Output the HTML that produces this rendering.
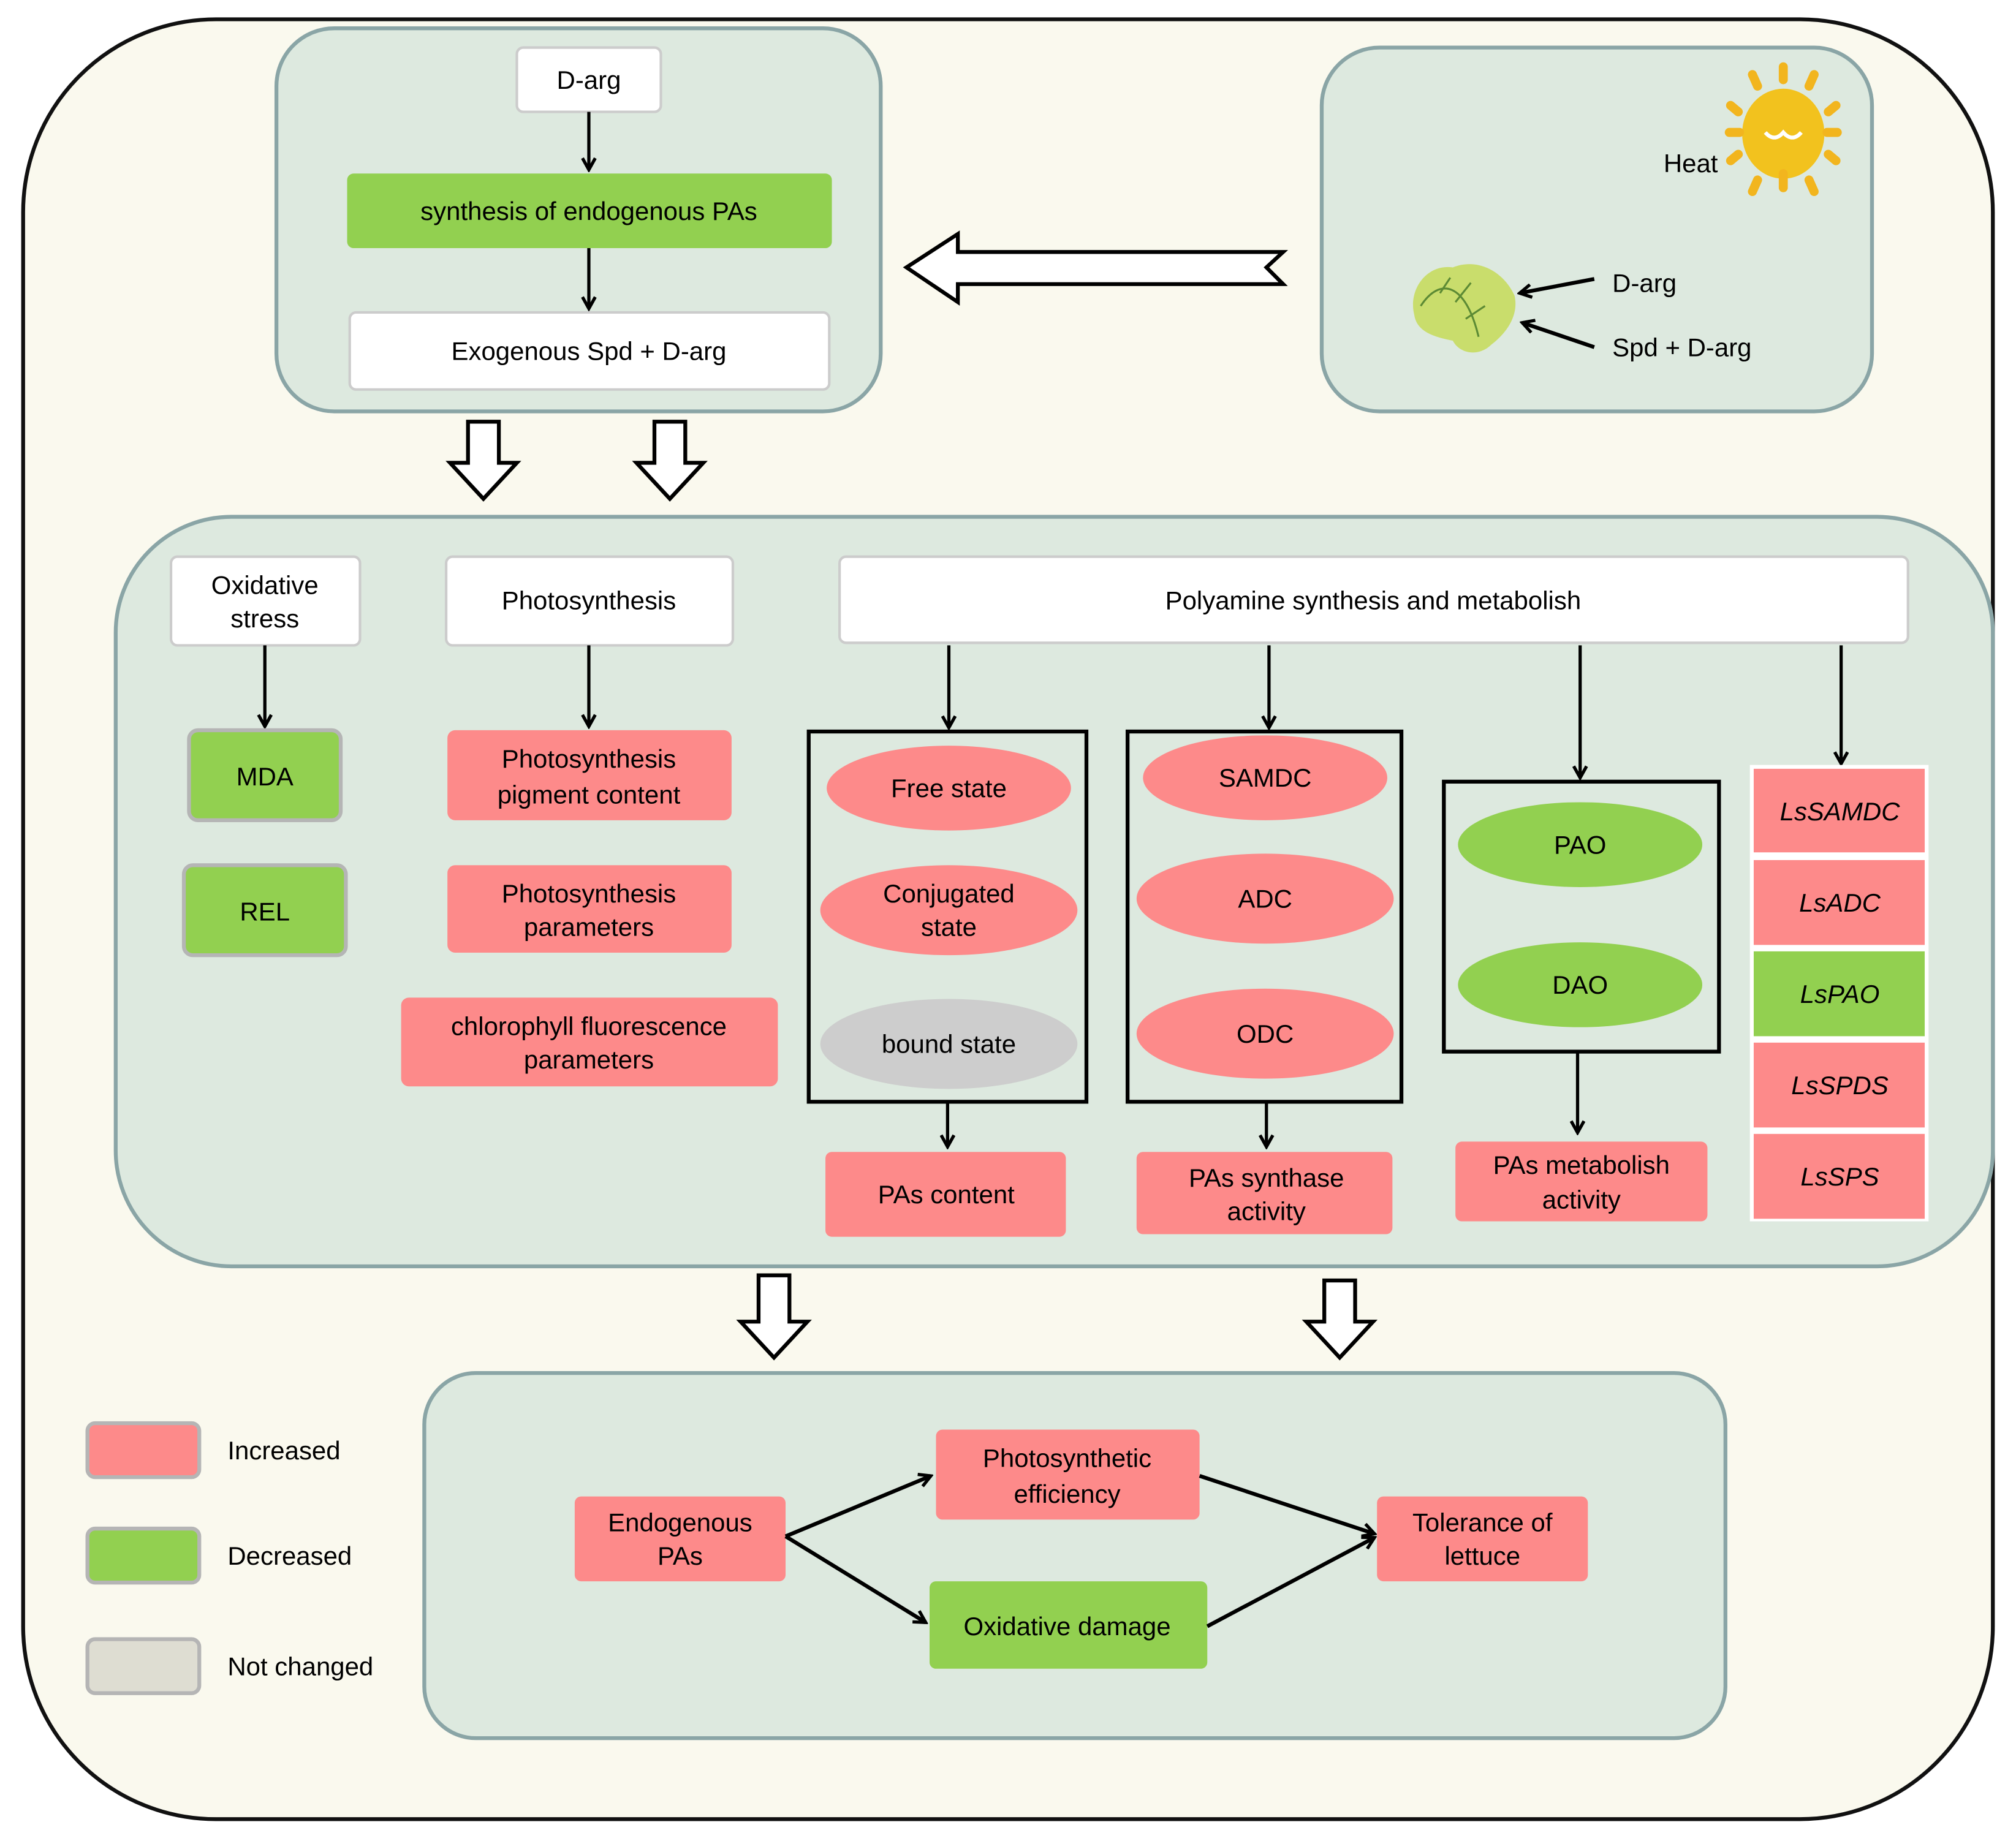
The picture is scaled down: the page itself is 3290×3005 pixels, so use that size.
<!DOCTYPE html>
<html><head><meta charset="utf-8"><style>html,body{margin:0;padding:0;background:#fff}svg{display:block}</style></head>
<body>
<svg xmlns="http://www.w3.org/2000/svg" width="3290" height="3005" viewBox="0 0 1568 1432" preserveAspectRatio="none" font-family="Liberation Sans, sans-serif" font-size="20" text-anchor="middle">
<defs>
<marker id="a" markerWidth="12" markerHeight="12" refX="10" refY="6" orient="auto" markerUnits="userSpaceOnUse">
<path d="M1,1 L10,6 L1,11" fill="none" stroke="#000" stroke-width="2.5"/>
</marker>
</defs>
<rect x="0" y="0" width="1568" height="1432" fill="#fff"/>
<rect x="18" y="15" width="1532" height="1400" rx="150" fill="#faf9ee" stroke="#111" stroke-width="3"/>
<!-- panels -->
<rect x="215" y="22" width="470" height="298" rx="45" fill="#dde9df" stroke="#8aa5a6" stroke-width="3"/>
<rect x="1028" y="37" width="428" height="283" rx="45" fill="#dde9df" stroke="#8aa5a6" stroke-width="3"/>
<rect x="90" y="402" width="1460" height="583" rx="90" fill="#dde9df" stroke="#8aa5a6" stroke-width="3"/>
<rect x="330" y="1068" width="1012" height="284" rx="40" fill="#dde9df" stroke="#8aa5a6" stroke-width="3"/>

<!-- top-left -->
<rect x="402" y="37" width="112" height="50" rx="5" fill="#fff" stroke="#ccc" stroke-width="2"/>
<text x="458" y="69">D-arg</text>
<rect x="270" y="135" width="377" height="58" rx="5" fill="#92d050"/>
<text x="458" y="171">synthesis of endogenous PAs</text>
<rect x="272" y="243" width="373" height="60" rx="5" fill="#fff" stroke="#ccc" stroke-width="2"/>
<text x="458" y="280">Exogenous Spd + D-arg</text>
<g stroke="#000" stroke-width="2.5" marker-end="url(#a)">
<line x1="458" y1="87" x2="458" y2="132"/>
<line x1="458" y1="193" x2="458" y2="240"/>
</g>

<!-- big left arrow -->
<path d="M998,196 L745,196 L745,182 L705,208 L745,235 L745,221 L998,221 L985,208 Z" fill="#fff" stroke="#000" stroke-width="3"/>

<!-- top-right -->
<text x="1315" y="134">Heat</text>
<g fill="#f2b51e">
<ellipse cx="1387" cy="104" rx="32" ry="35" fill="#f2c21e"/>
<g stroke="#f2b51e" stroke-width="7" stroke-linecap="round">
<line x1="1387" y1="62" x2="1387" y2="52"/><line x1="1387" y1="135" x2="1387" y2="146"/>
<line x1="1345" y1="103" x2="1353" y2="103"/><line x1="1421" y1="103" x2="1429" y2="103"/>
<line x1="1367" y1="67" x2="1363" y2="58"/><line x1="1407" y1="67" x2="1411" y2="58"/>
<line x1="1367" y1="140" x2="1363" y2="149"/><line x1="1407" y1="140" x2="1411" y2="149"/>
<line x1="1352" y1="87" x2="1346" y2="82"/><line x1="1422" y1="87" x2="1428" y2="82"/>
<line x1="1352" y1="120" x2="1346" y2="125"/><line x1="1422" y1="120" x2="1428" y2="125"/>
</g>
<path d="M1373,103 q7,8 14,0 q7,8 14,0" fill="none" stroke="#fff" stroke-width="3"/>
</g>
<path d="M1100,245 C1095,225 1110,205 1130,208 C1150,200 1170,212 1178,230 C1182,248 1168,262 1160,268 C1150,278 1135,275 1130,265 C1115,262 1102,258 1100,245 Z" fill="#c9dd6c"/>
<path d="M1105,238 C1120,215 1140,220 1150,262 M1120,228 l8,-12 M1132,235 l12,-15 M1140,248 l15,-10" fill="none" stroke="#5c8a34" stroke-width="1.5"/>
<g stroke="#000" stroke-width="3" marker-end="url(#a)">
<line x1="1240" y1="217" x2="1182" y2="228"/>
<line x1="1240" y1="270" x2="1184" y2="251"/>
</g>
<text x="1254" y="227" text-anchor="start">D-arg</text>
<text x="1254" y="277" text-anchor="start">Spd + D-arg</text>

<!-- hollow down arrows -->
<g fill="#fff" stroke="#000" stroke-width="3">
<path d="M364,328 L388,328 L388,360 L402,360 L376,388 L350,360 L364,360 Z"/>
<path d="M509,328 L533,328 L533,360 L547,360 L521,388 L495,360 L509,360 Z"/>
<path d="M590,992 L614,992 L614,1028 L628,1028 L602,1056 L576,1028 L590,1028 Z"/>
<path d="M1030,996 L1054,996 L1054,1028 L1068,1028 L1042,1056 L1016,1028 L1030,1028 Z"/>
</g>

<!-- middle headers -->
<rect x="133" y="433" width="147" height="69" rx="5" fill="#fff" stroke="#ccc" stroke-width="2"/>
<text x="206" y="462">Oxidative</text><text x="206" y="488">stress</text>
<rect x="347" y="433" width="223" height="69" rx="5" fill="#fff" stroke="#ccc" stroke-width="2"/>
<text x="458" y="474">Photosynthesis</text>
<rect x="653" y="433" width="831" height="67" rx="5" fill="#fff" stroke="#ccc" stroke-width="2"/>
<text x="1068" y="474">Polyamine synthesis and metabolish</text>

<g stroke="#000" stroke-width="2.5" marker-end="url(#a)">
<line x1="206" y1="502" x2="206" y2="565"/>
<line x1="458" y1="502" x2="458" y2="565"/>
<line x1="738" y1="502" x2="738" y2="566"/>
<line x1="987" y1="502" x2="987" y2="566"/>
<line x1="1229" y1="502" x2="1229" y2="605"/>
<line x1="1432" y1="502" x2="1432" y2="594"/>
<line x1="737" y1="857" x2="737" y2="892"/>
<line x1="985" y1="857" x2="985" y2="892"/>
<line x1="1227" y1="818" x2="1227" y2="881"/>
</g>

<rect x="147" y="568" width="118" height="70" rx="7" fill="#92d050" stroke="#b5b5b5" stroke-width="3"/>
<text x="206" y="611">MDA</text>
<rect x="143" y="673" width="126" height="70" rx="7" fill="#92d050" stroke="#b5b5b5" stroke-width="3"/>
<text x="206" y="716">REL</text>

<g fill="#fd8a8a">
<rect x="348" y="568" width="221" height="70" rx="6"/>
<rect x="348" y="673" width="221" height="68" rx="6"/>
<rect x="312" y="776" width="293" height="69" rx="6"/>
</g>
<text x="458" y="597">Photosynthesis</text><text x="458" y="625">pigment content</text>
<text x="458" y="702">Photosynthesis</text><text x="458" y="728">parameters</text>
<text x="458" y="805">chlorophyll fluorescence</text><text x="458" y="831">parameters</text>

<g fill="none" stroke="#000" stroke-width="3">
<rect x="629" y="569" width="216" height="288"/>
<rect x="877" y="569" width="213" height="288"/>
<rect x="1123" y="608" width="214" height="210"/>
</g>
<ellipse cx="738" cy="613" rx="95" ry="33" fill="#fd8a8a"/><text x="738" y="620">Free state</text>
<ellipse cx="738" cy="708" rx="100" ry="35" fill="#fd8a8a"/><text x="738" y="702">Conjugated</text><text x="738" y="728">state</text>
<ellipse cx="738" cy="812" rx="100" ry="35" fill="#cdcdcd"/><text x="738" y="819">bound state</text>
<ellipse cx="984" cy="605" rx="95" ry="33" fill="#fd8a8a"/><text x="984" y="612">SAMDC</text>
<ellipse cx="984" cy="699" rx="100" ry="35" fill="#fd8a8a"/><text x="984" y="706">ADC</text>
<ellipse cx="984" cy="804" rx="100" ry="35" fill="#fd8a8a"/><text x="984" y="811">ODC</text>
<ellipse cx="1229" cy="657" rx="95" ry="33" fill="#92d050"/><text x="1229" y="664">PAO</text>
<ellipse cx="1229" cy="766" rx="95" ry="33" fill="#92d050"/><text x="1229" y="773">DAO</text>

<rect x="1361" y="595" width="139" height="355" fill="#fff"/>
<g fill="#fd8a8a">
<rect x="1364" y="598" width="133" height="65"/>
<rect x="1364" y="669" width="133" height="66"/>
<rect x="1364" y="811" width="133" height="66"/>
<rect x="1364" y="882" width="133" height="66"/>
</g>
<rect x="1364" y="740" width="133" height="66" fill="#92d050"/>
<g font-style="italic">
<text x="1431" y="638">LsSAMDC</text>
<text x="1431" y="709">LsADC</text>
<text x="1431" y="780">LsPAO</text>
<text x="1431" y="851">LsSPDS</text>
<text x="1431" y="922">LsSPS</text>
</g>

<g fill="#fd8a8a">
<rect x="642" y="896" width="187" height="66" rx="5"/>
<rect x="884" y="896" width="199" height="64" rx="5"/>
<rect x="1132" y="888" width="196" height="62" rx="5"/>
</g>
<text x="736" y="936">PAs content</text>
<text x="985" y="923">PAs synthase</text><text x="985" y="949">activity</text>
<text x="1230" y="913">PAs metabolish</text><text x="1230" y="940">activity</text>

<!-- bottom -->
<g fill="#fd8a8a">
<rect x="447" y="1164" width="164" height="66" rx="5"/>
<rect x="728" y="1112" width="205" height="70" rx="5"/>
<rect x="1071" y="1164" width="164" height="66" rx="5"/>
</g>
<rect x="723" y="1230" width="216" height="68" rx="5" fill="#92d050"/>
<text x="529" y="1191">Endogenous</text><text x="529" y="1217">PAs</text>
<text x="830" y="1141">Photosynthetic</text><text x="830" y="1169">efficiency</text>
<text x="830" y="1272">Oxidative damage</text>
<text x="1153" y="1191">Tolerance of</text><text x="1153" y="1217">lettuce</text>
<g stroke="#000" stroke-width="3" marker-end="url(#a)">
<line x1="611" y1="1195" x2="724" y2="1148"/>
<line x1="611" y1="1195" x2="720" y2="1262"/>
<line x1="933" y1="1148" x2="1069" y2="1193"/>
<line x1="939" y1="1265" x2="1069" y2="1196"/>
</g>

<!-- legend -->
<rect x="68" y="1107" width="87" height="42" rx="6" fill="#fd8a8a" stroke="#b5b5b5" stroke-width="3"/>
<rect x="68" y="1189" width="87" height="42" rx="6" fill="#92d050" stroke="#b5b5b5" stroke-width="3"/>
<rect x="68" y="1275" width="87" height="42" rx="6" fill="#deddd2" stroke="#b5b5b5" stroke-width="3"/>
<text x="177" y="1135" text-anchor="start">Increased</text>
<text x="177" y="1217" text-anchor="start">Decreased</text>
<text x="177" y="1303" text-anchor="start">Not changed</text>
</svg>
</body></html>
